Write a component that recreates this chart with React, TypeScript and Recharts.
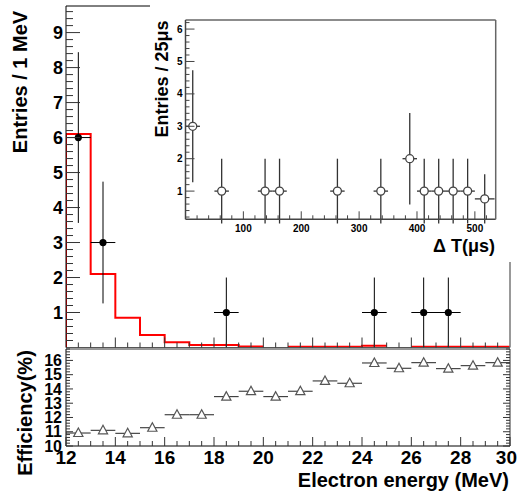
import React from 'react';
import { ComposedChart, Scatter, Line, XAxis, YAxis, ErrorBar } from 'recharts';

const W = 518;
const H = 494;
const FONT = '"Liberation Sans", Arial, Helvetica, sans-serif';

// ---------- main panel: electron energy spectrum ----------
const binEdges = [12, 13, 14, 15, 16, 17, 18, 19, 20, 21, 22, 23, 24, 25, 26, 27, 28, 29, 30];
// expected spectrum (red histogram), null = empty bin
const mcValues: (number | null)[] = [6.1, 2.1, 0.85, 0.36, 0.15, 0.07, 0.07, 0.03, null, 0.02, 0.02, 0.02, 0.05, null, 0.02, 0.02, 0.02, 0.02];
const dataEnergy = [12.5, 13.5, 18.5, 24.5, 26.5, 27.5];
const dataCounts = [6, 3, 1, 1, 1, 1];
const dataErrLow = [2.44, 1.74, 1, 1, 1, 1];
const dataErrHigh = [2.44, 1.74, 1, 1, 1, 1];
const dataHalfWidth = [0.5, 0.5, 0.5, 0.5, 0.5, 0.5];
const mainYLabels = [1, 2, 3, 4, 5, 6, 7, 8, 9];
const energyLabels = [12, 14, 16, 18, 20, 22, 24, 26, 28, 30];

// ---------- lower panel: efficiency ----------
const effEnergy = [12.5, 13.5, 14.5, 15.5, 16.5, 17.5, 18.5, 19.5, 20.5, 21.5, 22.5, 23.5, 24.5, 25.5, 26.5, 27.5, 28.5, 29.5];
const effValues = [10.91, 11.1, 10.89, 11.28, 12.19, 12.19, 13.46, 13.84, 13.46, 13.84, 14.56, 14.4, 15.82, 15.45, 15.84, 15.42, 15.63, 15.84];
const effLabels = [10, 11, 12, 13, 14, 15, 16];

// ---------- inset: time difference ----------
const dtCenters = [12.5, 62.5, 137.5, 162.5, 262.5, 337.5, 387.5, 412.5, 437.5, 462.5, 487.5, 517];
const dtCounts = [3, 1, 1, 1, 1, 1, 2, 1, 1, 1, 1, 0.76];
const dtErrLow = [1.73, 1, 1, 1, 1, 1, 1.41, 1, 1, 1, 1, 0.76];
const dtErrHigh = [1.73, 1, 1, 1, 1, 1, 1.41, 1, 1, 1, 1, 0.76];
const dtHalfWidth = [12.5, 12.5, 12.5, 12.5, 12.5, 12.5, 12.5, 12.5, 12.5, 12.5, 12.5, 17];
const dtXLabels = [100, 200, 300, 400, 500];
const dtYLabels = [1, 2, 3, 4, 5, 6];

// ---------- derived tables ----------
const range = (a: number, b: number, step: number) => {
  const out: number[] = [];
  for (let v = a; v <= b + 1e-9; v += step) out.push(Math.round(v * 1000) / 1000);
  return out;
};

const mcLine: { x: number; y: number | null }[] = [];
mcValues.forEach((v, i) => {
  const lo = binEdges[i];
  const hi = binEdges[i + 1];
  if (v === null) {
    mcLine.push({ x: lo, y: null });
    return;
  }
  if (i === 0) mcLine.push({ x: lo, y: 0 });
  mcLine.push({ x: lo, y: v }, { x: hi, y: v });
});

const mainPoints = dataEnergy.map((x, i) => ({ x, y: dataCounts[i], ex: dataHalfWidth[i], ey: [dataErrLow[i], dataErrHigh[i]] }));
const effPoints = effEnergy.map((x, i) => ({ x, y: effValues[i], ex: 0.5 }));
const dtPoints = dtCenters.map((x, i) => ({ x, y: dtCounts[i], ex: dtHalfWidth[i], ey: [dtErrLow[i], dtErrHigh[i]] }));

const near = (arr: number[], v: number) => arr.some((m) => Math.abs(m - v) < 1e-6);

type TickOpts = {
  side: 'left' | 'right' | 'top' | 'bottom';
  major: number[];
  majorLen: number;
  minorLen: number;
  labels?: number[];
  fontSize?: number;
  gap?: number;
  color?: string;
};

function makeTick(o: TickOpts) {
  return (props: any) => {
    const { x, y, payload } = props;
    const v = Number(payload.value);
    const isMajor = near(o.major, v);
    const len = isMajor ? o.majorLen : o.minorLen;
    let x2 = x;
    let y2 = y;
    if (o.side === 'left') x2 = x + len;
    else if (o.side === 'right') x2 = x - len;
    else if (o.side === 'bottom') y2 = y - len;
    else y2 = y + len;
    let label: React.ReactNode = null;
    if (o.labels && o.fontSize && near(o.labels, v)) {
      const txt = String(v);
      if (o.side === 'left') {
        label = (
          <text x={x - (o.gap || 0)} y={y + o.fontSize * 0.36} textAnchor="end" fontFamily={FONT} fontWeight="bold" fontSize={o.fontSize} fill="#000">
            {txt}
          </text>
        );
      } else {
        // keep labels inside the picture at the right edge
        const half = txt.length * o.fontSize * 0.278;
        const cx = Math.min(x, W - 1 - half);
        label = (
          <text x={cx} y={y + (o.gap || 0)} textAnchor="middle" fontFamily={FONT} fontWeight="bold" fontSize={o.fontSize} fill="#000">
            {txt}
          </text>
        );
      }
    }
    return (
      <g>
        {len > 0 && <line x1={x} y1={y} x2={x2} y2={y2} stroke={o.color || '#333'} strokeWidth={1} />}
        {label}
      </g>
    );
  };
}

const filledDot = (p: any) => <circle cx={p.cx} cy={p.cy} r={3.6} fill="#000" />;
const openDot = (p: any) => <circle cx={p.cx} cy={p.cy} r={4} fill="#fff" stroke="#444" strokeWidth={1.3} />;
const openTri = (p: any) => (
  <polygon
    points={`${p.cx},${p.cy - 5} ${p.cx - 4.6},${p.cy + 3.5} ${p.cx + 4.6},${p.cy + 3.5}`}
    fill="#fff"
    stroke="#555"
    strokeWidth={1.2}
  />
);

const abs = (z: number): React.CSSProperties => ({ position: 'absolute', left: 0, top: 0, width: W, height: H, zIndex: z });

// Axes reserve 1px (a zero-size axis is not drawn), so margins are 1px smaller than the plot edges.
export default function App() {
  const energyTicksMain = range(12.5, 29.5, 0.5);
  const energyTicksEff = range(12, 30, 0.5);
  const energyMajor = range(12, 30, 2);
  const mainYTicks = range(0.2, 9.6, 0.2);
  const effYTicks = range(10, 16.8, 0.2);
  const dtXTicks = range(20, 520, 20);
  const dtYTicks = range(0.2, 6.2, 0.2);

  return (
    <div style={{ position: 'absolute', left: 0, top: 0, width: W, height: H, background: '#fff', overflow: 'hidden' }}>
      {/* main spectrum panel: plot x 66..510, y 6..347.5 */}
      <div style={abs(1)}>
        <ComposedChart width={W} height={H} margin={{ top: 5, left: 65, right: 7, bottom: H - 347.5 - 1 }}>
          <XAxis
            type="number"
            dataKey="x"
            domain={[12, 30]}
            allowDataOverflow
            ticks={energyTicksMain}
            interval={0}
            height={1}
            tickSize={0}
            tickMargin={0}
            axisLine={{ stroke: '#555', strokeWidth: 1 }}
            tickLine={false}
            tick={makeTick({ side: 'bottom', major: energyMajor, majorLen: 10, minorLen: 5 })}
          />
          <XAxis xAxisId="top" orientation="top" type="number" domain={[12, 30]} allowDataOverflow height={1} tick={false} tickLine={false} axisLine={{ stroke: '#000' }} />
          <YAxis
            type="number"
            dataKey="y"
            domain={[0, 9.76]}
            allowDataOverflow
            ticks={mainYTicks}
            interval={0}
            width={1}
            tickSize={0}
            tickMargin={0}
            axisLine={{ stroke: '#000', strokeWidth: 1 }}
            tickLine={false}
            tick={makeTick({ side: 'left', major: mainYLabels, majorLen: 14, minorLen: 7, labels: mainYLabels, fontSize: 18, gap: 3 })}
          />
          <YAxis yAxisId="right" orientation="right" type="number" domain={[0, 9.76]} allowDataOverflow width={1} tick={false} tickLine={false} axisLine={{ stroke: '#777', strokeWidth: 1.5 }} />
          <Line data={mcLine} dataKey="y" type="linear" stroke="#ff0000" strokeWidth={2} dot={false} activeDot={false} connectNulls={false} isAnimationActive={false} />
          <Scatter data={mainPoints} dataKey="y" shape={filledDot} isAnimationActive={false}>
            <ErrorBar dataKey="ex" direction="x" width={0} stroke="#000" strokeWidth={1} />
            <ErrorBar dataKey="ey" direction="y" width={0} stroke="#000" strokeWidth={1} />
          </Scatter>
        </ComposedChart>
      </div>

      {/* lower efficiency panel: plot x 66..510, y 349..446 */}
      <div style={abs(2)}>
        <ComposedChart width={W} height={H} margin={{ top: 348, left: 65, right: 7, bottom: H - 446 - 1 }}>
          <XAxis
            type="number"
            dataKey="x"
            domain={[12, 30]}
            allowDataOverflow
            ticks={energyTicksEff}
            interval={0}
            height={1}
            tickSize={0}
            tickMargin={0}
            axisLine={{ stroke: '#000', strokeWidth: 1 }}
            tickLine={false}
            tick={makeTick({ side: 'bottom', major: energyMajor, majorLen: 9, minorLen: 5, labels: energyLabels, fontSize: 19, gap: 18 })}
          />
          <XAxis
            xAxisId="top"
            orientation="top"
            type="number"
            domain={[12, 30]}
            allowDataOverflow
            ticks={energyTicksEff}
            interval={0}
            height={1}
            tickSize={0}
            tickMargin={0}
            axisLine={{ stroke: '#333', strokeWidth: 1 }}
            tickLine={false}
            tick={makeTick({ side: 'top', major: energyMajor, majorLen: 7, minorLen: 4 })}
          />
          <YAxis
            type="number"
            dataKey="y"
            domain={[10, 16.8]}
            allowDataOverflow
            ticks={effYTicks}
            interval={0}
            width={1}
            tickSize={0}
            tickMargin={0}
            axisLine={{ stroke: '#000', strokeWidth: 1 }}
            tickLine={false}
            tick={makeTick({ side: 'left', major: effLabels, majorLen: 7, minorLen: 4, labels: effLabels, fontSize: 16, gap: 4 })}
          />
          <YAxis
            yAxisId="right"
            orientation="right"
            type="number"
            domain={[10, 16.8]}
            allowDataOverflow
            ticks={effYTicks}
            interval={0}
            width={1}
            tickSize={0}
            tickMargin={0}
            axisLine={{ stroke: '#333', strokeWidth: 1 }}
            tickLine={false}
            tick={makeTick({ side: 'right', major: effLabels, majorLen: 7, minorLen: 4 })}
          />
          <Scatter data={effPoints} dataKey="y" shape={openTri} isAnimationActive={false}>
            <ErrorBar dataKey="ex" direction="x" width={0} stroke="#222" strokeWidth={1} />
          </Scatter>
        </ComposedChart>
      </div>

      {/* white pad of the inset */}
      <div style={{ position: 'absolute', left: 150, top: 0, width: W - 150, height: 262, background: '#fff', zIndex: 3 }} />

      {/* inset: plot x 185.5..495.7, y 20..219.3 */}
      <div style={abs(4)}>
        <ComposedChart width={W} height={H} margin={{ top: 19, left: 184.5, right: W - 495.7 - 1, bottom: H - 219.3 - 1 }}>
          <XAxis
            type="number"
            dataKey="x"
            domain={[0, 536]}
            allowDataOverflow
            ticks={dtXTicks}
            interval={0}
            height={1}
            tickSize={0}
            tickMargin={0}
            axisLine={{ stroke: '#444', strokeWidth: 1.5 }}
            tickLine={false}
            tick={makeTick({ side: 'bottom', major: dtXLabels, majorLen: 8, minorLen: 4, labels: dtXLabels, fontSize: 10, gap: 12.3, color: '#444' })}
          />
          <XAxis xAxisId="top" orientation="top" type="number" domain={[0, 536]} allowDataOverflow height={1} tick={false} tickLine={false} axisLine={{ stroke: '#666', strokeWidth: 1.5 }} />
          <YAxis
            type="number"
            dataKey="y"
            domain={[0.13, 6.28]}
            allowDataOverflow
            ticks={dtYTicks}
            interval={0}
            width={1}
            tickSize={0}
            tickMargin={0}
            axisLine={{ stroke: '#444', strokeWidth: 1.5 }}
            tickLine={false}
            tick={makeTick({ side: 'left', major: dtYLabels, majorLen: 9, minorLen: 4, labels: dtYLabels, fontSize: 10, gap: 3, color: '#444' })}
          />
          <YAxis yAxisId="right" orientation="right" type="number" domain={[0.13, 6.28]} allowDataOverflow width={1} tick={false} tickLine={false} axisLine={{ stroke: '#666', strokeWidth: 1.5 }} />
          <Scatter data={dtPoints} dataKey="y" shape={openDot} isAnimationActive={false}>
            <ErrorBar dataKey="ex" direction="x" width={0} stroke="#333" strokeWidth={1.3} />
            <ErrorBar dataKey="ey" direction="y" width={0} stroke="#333" strokeWidth={1.3} />
          </Scatter>
        </ComposedChart>
      </div>

      {/* axis titles */}
      <svg width={W} height={H} style={{ position: 'absolute', left: 0, top: 0, zIndex: 5, pointerEvents: 'none' }}>
        <text transform="translate(20,82) rotate(-90)" textAnchor="middle" dominantBaseline="central" fontFamily={FONT} fontWeight="bold" fontSize={20} fill="#000">
          Entries / 1 MeV
        </text>
        <text transform="translate(25,413) rotate(-90)" textAnchor="middle" dominantBaseline="central" fontFamily={FONT} fontWeight="bold" fontSize={20} fill="#000">
          Efficiency(%)
        </text>
        <text x={509} y={487} textAnchor="end" fontFamily={FONT} fontWeight="bold" fontSize={20} fill="#000">
          Electron energy (MeV)
        </text>
        <text transform="translate(162,79) rotate(-90)" textAnchor="middle" dominantBaseline="central" fontFamily={FONT} fontWeight="bold" fontSize={18} fill="#000">
          Entries / 25μs
        </text>
        <text x={495} y={252} textAnchor="end" fontFamily={FONT} fontWeight="bold" fontSize={18} fill="#000">
          Δ T(μs)
        </text>
      </svg>
    </div>
  );
}
